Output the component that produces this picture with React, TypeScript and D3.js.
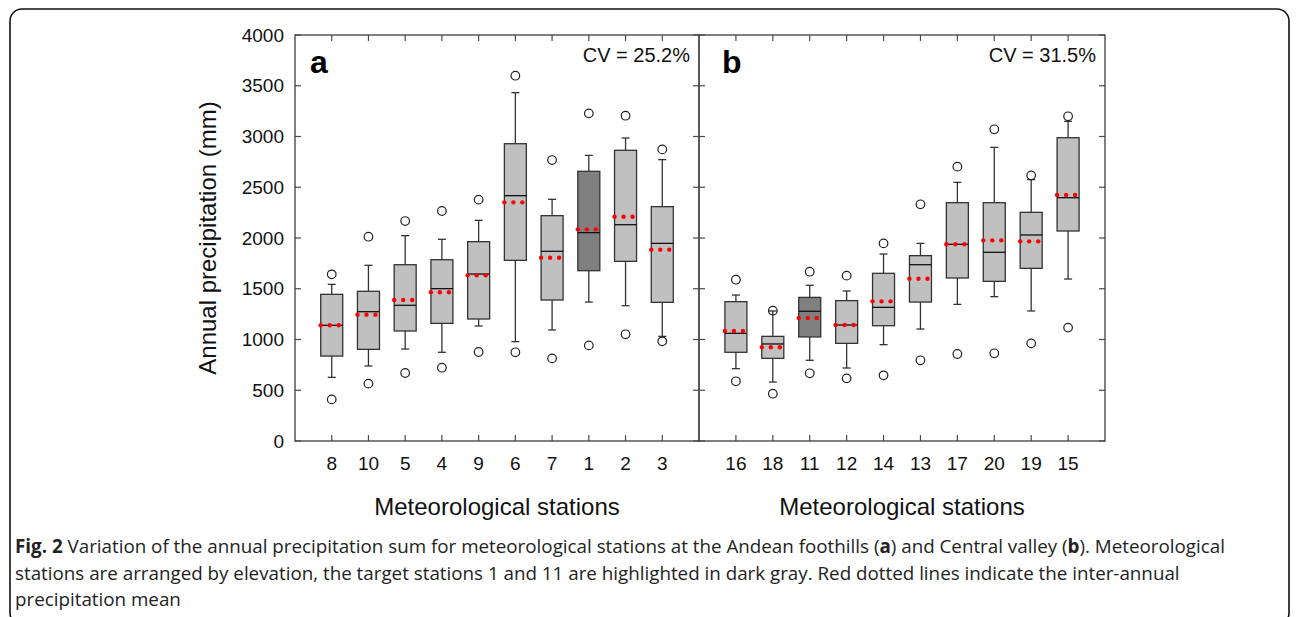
import React, { useEffect, useRef } from 'react';
import * as d3 from 'd3';

// panel a - Andean foothills
const stationsA = ['8', '10', '5', '4', '9', '6', '7', '1', '2', '3'];
const outLowA = [410, 565, 670, 722, 877, 874, 814, 942, 1051, 982];
const whiskLowA = [627, 739, 906, 874, 1133, 979, 1094, 1369, 1333, 1031];
const q1A = [837, 903, 1084, 1159, 1202, 1780, 1389, 1678, 1770, 1366];
const medianA = [1140, 1274, 1337, 1501, 1645, 2417, 1869, 2053, 2131, 1947];
const q3A = [1445, 1475, 1737, 1786, 1964, 2929, 2220, 2657, 2864, 2309];
const whiskHighA = [1543, 1731, 2023, 1987, 2174, 3432, 2381, 2814, 2985, 2772];
const outHighA = [1642, 2013, 2167, 2266, 2378, 3599, 2768, 3228, 3205, 2873];
const meanA = [1140, 1245, 1389, 1465, 1632, 2351, 1806, 2085, 2210, 1885];

// panel b - Central valley
const stationsB = ['16', '18', '11', '12', '14', '13', '17', '20', '19', '15'];
const outLowB = [588, 466, 667, 617, 647, 795, 857, 864, 962, 1117];
const whiskLowB = [713, 581, 795, 719, 949, 1103, 1346, 1422, 1281, 1596];
const q1B = [874, 814, 1025, 962, 1136, 1369, 1606, 1573, 1701, 2069];
const medianB = [1061, 956, 1278, 1143, 1317, 1737, 1938, 1859, 2030, 2397];
const q3B = [1373, 1031, 1415, 1383, 1652, 1826, 2348, 2348, 2253, 2988];
const whiskHighB = [1438, 1281, 1534, 1478, 1842, 1947, 2548, 2893, 2575, 3149];
const outHighB = [1589, 1284, 1668, 1629, 1947, 2332, 2703, 3071, 2617, 3199];
const meanB = [1084, 923, 1212, 1143, 1376, 1599, 1938, 1977, 1967, 2424];

const highlighted = ['1', '11'];
const yTicks = [0, 500, 1000, 1500, 2000, 2500, 3000, 3500, 4000];

const captionLines = [
  [['Fig. 2', true], [' Variation of the annual precipitation sum for meteorological stations at the Andean foothills (', false], ['a', true], [') and Central valley (', false], ['b', true], ['). Meteorological', false]],
  [['stations are arranged by elevation, the target stations 1 and 11 are highlighted in dark gray. Red dotted lines indicate the inter-annual', false]],
  [['precipitation mean', false]],
];

const App = () => {
  const ref = useRef(null);

  useEffect(() => {
    const svg = d3.select(ref.current);
    svg.selectAll('*').remove();

    const top = 35, bottom = 441;
    const y = d3.scaleLinear().domain([0, 4000]).range([bottom, top]);
    const font = 'Liberation Sans, Arial, sans-serif';
    const frame = '#4a4a4a';

    // outer rounded border
    svg.append('rect')
      .attr('x', 10).attr('y', 9).attr('width', 1279).attr('height', 616)
      .attr('rx', 12).attr('fill', 'none').attr('stroke', '#111').attr('stroke-width', 1.6);

    const panels = [
      { x0: 295, x1: 699, names: stationsA, lo: outLowA, wl: whiskLowA, q1: q1A, med: medianA, q3: q3A, wh: whiskHighA, hi: outHighA, mean: meanA, tag: 'a', cv: 'CV = 25.2%' },
      { x0: 699, x1: 1105, names: stationsB, lo: outLowB, wl: whiskLowB, q1: q1B, med: medianB, q3: q3B, wh: whiskHighB, hi: outHighB, mean: meanB, tag: 'b', cv: 'CV = 31.5%' },
    ];

    panels.forEach((p, pi) => {
      const x = d3.scalePoint().domain(p.names).range([p.x0, p.x1]).padding(1);
      const g = svg.append('g');
      const tk = 6;

      // y ticks inward on both sides
      yTicks.forEach(t => {
        g.append('line').attr('x1', p.x0).attr('x2', p.x0 + tk).attr('y1', y(t)).attr('y2', y(t))
          .attr('stroke', frame).attr('stroke-width', 1.2);
        g.append('line').attr('x1', p.x1).attr('x2', p.x1 - tk).attr('y1', y(t)).attr('y2', y(t))
          .attr('stroke', frame).attr('stroke-width', 1.2);
      });
      // x ticks inward top and bottom
      p.names.forEach(n => {
        g.append('line').attr('x1', x(n)).attr('x2', x(n)).attr('y1', bottom).attr('y2', bottom - tk)
          .attr('stroke', frame).attr('stroke-width', 1.2);
        g.append('line').attr('x1', x(n)).attr('x2', x(n)).attr('y1', top).attr('y2', top + tk)
          .attr('stroke', frame).attr('stroke-width', 1.2);
        g.append('text').attr('x', x(n)).attr('y', 470).attr('text-anchor', 'middle')
          .style('font', `19px ${font}`).attr('fill', '#111').text(n);
      });

      const bw = 11;
      p.names.forEach((n, i) => {
        const cx = x(n);
        const line = (x1, y1, x2, y2) => g.append('line')
          .attr('x1', x1).attr('y1', y1).attr('x2', x2).attr('y2', y2)
          .attr('stroke', '#333').attr('stroke-width', 1.3);
        // whiskers
        line(cx, y(p.q3[i]), cx, y(p.wh[i]));
        line(cx, y(p.q1[i]), cx, y(p.wl[i]));
        line(cx - 4, y(p.wh[i]), cx + 4, y(p.wh[i]));
        line(cx - 4, y(p.wl[i]), cx + 4, y(p.wl[i]));
        // box
        g.append('rect')
          .attr('x', cx - bw).attr('width', bw * 2)
          .attr('y', y(p.q3[i])).attr('height', y(p.q1[i]) - y(p.q3[i]))
          .attr('fill', highlighted.includes(n) ? '#808080' : '#c0c0c0')
          .attr('stroke', '#333').attr('stroke-width', 1.3);
        line(cx - bw, y(p.med[i]), cx + bw, y(p.med[i])).attr('stroke', '#111');
        // outliers
        [p.lo[i], p.hi[i]].forEach(v => {
          g.append('circle').attr('cx', cx).attr('cy', y(v)).attr('r', 4.3)
            .attr('fill', 'none').attr('stroke', '#222').attr('stroke-width', 1.2);
        });
        // mean as red dotted line
        [-11, -2, 7].forEach(dx => {
          g.append('circle').attr('cx', cx + dx).attr('cy', y(p.mean[i])).attr('r', 2.2).attr('fill', '#ff0000');
        });
      });

      // frame
      g.append('rect').attr('x', p.x0).attr('y', top).attr('width', p.x1 - p.x0).attr('height', bottom - top)
        .attr('fill', 'none').attr('stroke', frame).attr('stroke-width', 1.4);

      g.append('text').attr('x', p.x0 + (pi === 0 ? 15 : 23)).attr('y', 73)
        .style('font', `bold 32px ${font}`).attr('fill', '#000').text(p.tag);
      g.append('text').attr('x', p.x1 - 9).attr('y', 62).attr('text-anchor', 'end')
        .style('font', `20px ${font}`).attr('fill', '#111').text(p.cv);
      g.append('text').attr('x', (p.x0 + p.x1) / 2).attr('y', 515).attr('text-anchor', 'middle')
        .style('font', `24px ${font}`).attr('fill', '#111').text('Meteorological stations');
    });

    // y axis labels
    yTicks.forEach(t => {
      svg.append('text').attr('x', 284).attr('y', y(t)).attr('dy', '0.35em').attr('text-anchor', 'end')
        .style('font', `19px ${font}`).attr('fill', '#111').text(t);
    });
    svg.append('text').attr('transform', `translate(216,238) rotate(-90)`).attr('text-anchor', 'middle')
      .style('font', `24px ${font}`).attr('fill', '#111').text('Annual precipitation (mm)');

    // caption
    const baselines = [553, 580, 606];
    captionLines.forEach((parts, li) => {
      const t = svg.append('text').attr('x', 15).attr('y', baselines[li])
        .style('font', `18.8px "Open Sans", "Noto Sans", sans-serif`).attr('fill', '#222');
      parts.forEach(([s, b]) => {
        t.append('tspan').attr('font-weight', b ? 'bold' : 'normal').text(s);
      });
    });
  }, []);

  return (
    <svg ref={ref} width="1296" height="617" style={{ position: 'absolute', left: 0, top: 0, background: '#fff' }}></svg>
  );
};

export default App;
